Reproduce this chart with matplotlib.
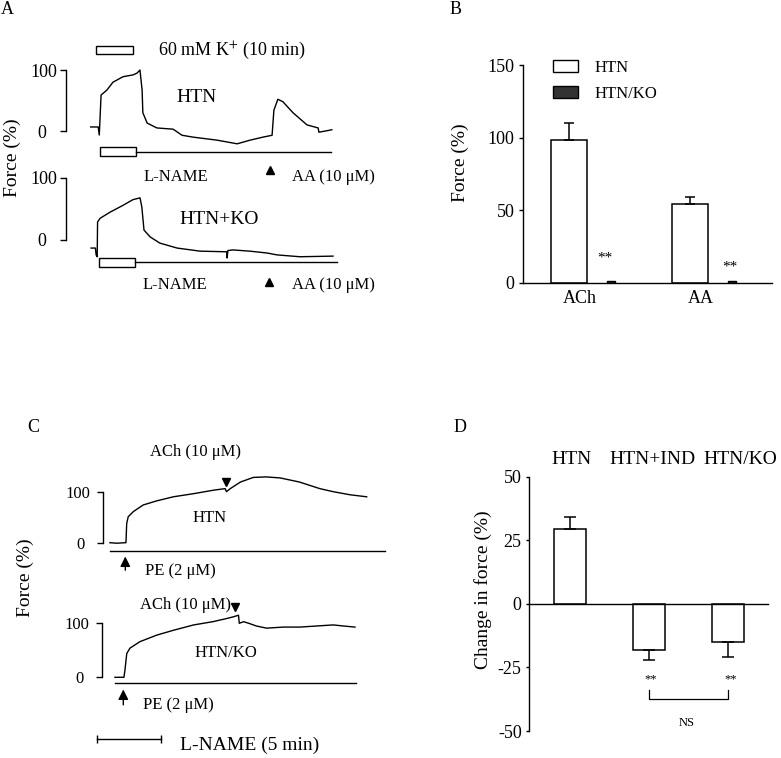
#!/usr/bin/env python3
"""
Four-panel vascular reactivity figure: force traces (A, C) and bar summaries (B, D)
"""

import matplotlib
matplotlib.use('Agg')
import matplotlib.pyplot as plt
from matplotlib.patches import Patch, Rectangle

plt.rcParams['font.family'] = ['Liberation Serif', 'DejaVu Sans']
plt.rcParams['mathtext.fontset'] = 'stix'
plt.rcParams['axes.unicode_minus'] = False

W, H = 781, 758

# ---- Panel A: 60 mM K+ then L-NAME, AA added (time in min, force in %) ----
A_HTN_T = [-2.6, -0.5, -0.2, 0.3, 1.9, 3.6, 6.4, 9.2, 10.3, 11.1, 11.7, 11.9, 13.1, 15.8, 20.3,
           22.8, 25.8, 32.5, 38.1, 41.7, 45.3, 47.8, 48.3, 49.4, 50.8, 53.6, 57.5, 60.6, 60.8, 64.4]
A_HTN_F = [6.6, 6.6, -6.6, 59, 67, 80, 89, 92, 95, 100, 67, 30, 13, 5, 3,
           -7, -10, -15, -21, -15, -10, -7, 34, 52, 48, 30, 10, 5, -2, 2]
A_KO_T = [-2.2, -1.0, -0.8, -0.5, -0.4, 0.3, 3.1, 6.7, 9.4, 11.4, 11.9, 12.5, 14.2, 16.9, 21.7,
          28.1, 35.5, 35.6, 35.8, 37.2, 41.9, 46.7, 49.4, 55.8, 65]
A_KO_F = [-13, -13, -24, -27, 29, 35, 45, 56, 65, 68, 53, 16, 5, -5, -13,
          -18, -19, -29, -17, -16, -18, -21, -24, -27, -26]
K_DURATION = 10      # min
A_AA_TIME = 47.3     # min
A_END = 65.5

# ---- Panel B: relaxation to ACh / AA ----
B_CATS = ['ACh', 'AA']
B_HTN = [98, 54.2]
B_HTN_ERR = [12, 5]
B_KO = [1.0, 1.0]

# ---- Panel C: PE contraction, ACh added (time in min, force in %) ----
C_HTN_T = [-1.2, -0.67, 0, 0.05, 0.11, 0.23, 0.63, 1.4, 2.45, 3.75, 5.3, 6.9, 7.8, 7.9, 8.2,
           9.0, 10.0, 11.0, 12.1, 13.6, 15.2, 16.25, 17.55, 18.86]
C_HTN_F = [0, -1, 0, 0, 38, 51, 61, 74, 82, 90, 96, 103, 106, 100, 106,
           119, 128, 129, 127, 119, 106, 100, 94, 90]
C_KO_T = [-0.65, 0.05, 0.13, 0.27, 0.52, 1.3, 2.6, 3.9, 5.5, 7.0, 8.1, 8.6, 9.0, 9.06, 9.4,
          9.8, 10.4, 11.2, 12.5, 13.8, 15.1, 16.4, 17.2, 18.1]
C_KO_F = [0, 0, 13.5, 44, 54, 66, 78, 87, 97, 103, 109, 112, 115, 100, 103,
          100, 95, 91, 93, 93, 95, 97, 95, 93]
C_ACH_HTN = 7.87
C_ACH_KO = 8.73
C_END_HTN = 20.3
C_END_KO = 18.2
SCALE_MIN = 5

# ---- Panel D: change in force after ACh ----
D_GROUPS = ['HTN', 'HTN+IND', 'HTN/KO']
D_MEAN = [29.4, -18.2, -14.9]
D_ERR_UP = [4.6, 0, 0]
D_ERR_DOWN = [0, 4.0, 6.1]

KO_COLOR = '#333333'

fig = plt.figure(figsize=(W / 100, H / 100), dpi=100)


def put(x, y, s, size=12, ha='center', va='center', **kw):
    fig.text(x / W, 1 - y / H, s, fontsize=size, ha=ha, va=va, **kw)


def trace_axes(x0, sx, y0, sy, tlim, flim, bar_px, labelsize, pads):
    """Axes whose t=0/f=0 sits at pixel (x0, y0), sx px per min, sy px per %"""
    left = x0 + sx * tlim[0]
    width = sx * (tlim[1] - tlim[0])
    top = y0 - sy * flim[1]
    height = sy * (flim[1] - flim[0])
    ax = fig.add_axes([left / W, 1 - (top + height) / H, width / W, height / H])
    ax.set_xlim(tlim)
    ax.set_ylim(flim)
    ax.patch.set_visible(False)
    for s in ['top', 'right', 'bottom']:
        ax.spines[s].set_visible(False)
    ax.spines['left'].set_position(('outward', (left - bar_px) * 0.72))
    ax.spines['left'].set_bounds(0, 100)
    ax.spines['left'].set_linewidth(1.0)
    ax.set_xticks([])
    ax.set_yticks([0, 100])
    ax.set_yticklabels(['0', '100'])
    ax.tick_params(axis='y', direction='out', length=4, width=1.0, labelsize=labelsize)
    for tick, p in zip(ax.yaxis.get_major_ticks(), pads):
        tick.set_pad(p)
    return ax


def pe_arrow(ax, head, tail):
    ax.annotate('', xy=(0, head), xytext=(0, tail), annotation_clip=False,
                arrowprops=dict(arrowstyle='-|>,head_length=0.5,head_width=0.25', color='black',
                                lw=1.0, mutation_scale=12, shrinkA=0, shrinkB=0))


# =========================== Panel A ===========================
put(7, 9, 'A', 13)
fig.add_artist(Rectangle((96 / W, 1 - 54 / H), 37 / W, 8 / H, transform=fig.transFigure,
                         fill=False, lw=1.0, ec='black'))
put(158, 50, '60 mM K$^{+}$ (10 min)', 13, ha='left')
put(12, 158, 'Force (%)', 14, rotation=90)

axa1 = trace_axes(100, 3.6, 131, 0.61, (-3, 66), (-45, 105), 65.5, 13, (10, 2))
axa1.plot(A_HTN_T, A_HTN_F, color='black', lw=1.0)
axa1.add_patch(Rectangle((0, -41), K_DURATION, 15, fill=False, lw=1.0, ec='black', clip_on=False))
axa1.plot([K_DURATION, A_END - 1.4], [-34.4, -34.4], color='black', lw=1.0, clip_on=False)
axa1.plot([A_AA_TIME], [-64], marker='^', color='black', ms=6, clip_on=False)
put(197, 97, 'HTN', 14)
put(144, 177, 'L-NAME', 12, ha='left')
put(292, 177, 'AA (10 μM)', 12, ha='left')

axa2 = trace_axes(99, 3.6, 240, 0.62, (-3, 66), (-45, 105), 65.5, 13, (10, 2))
axa2.plot(A_KO_T, A_KO_F, color='black', lw=1.0)
axa2.add_patch(Rectangle((0, -43.5), K_DURATION, 14.5, fill=False, lw=1.0, ec='black', clip_on=False))
axa2.plot([K_DURATION, A_END + 0.5], [-35.5, -35.5], color='black', lw=1.0, clip_on=False)
axa2.plot([A_AA_TIME], [-68], marker='^', color='black', ms=6, clip_on=False)
put(219, 220, 'HTN+KO', 14)
put(143, 285, 'L-NAME', 12, ha='left')
put(292, 285, 'AA (10 μM)', 12, ha='left')

# =========================== Panel B ===========================
put(456, 10, 'B', 13)
axb = fig.add_axes([522.7 / W, 1 - 282.7 / H, 249 / W, (282.7 - 65) / H])
xh = [0, 1]
xk = [0.35, 1.35]
axb.bar(xh, B_HTN, width=0.30, color='white', edgecolor='black', lw=1.1,
        yerr=[[0, 0], B_HTN_ERR], error_kw=dict(ecolor='black', elinewidth=1.1, capsize=3.6, capthick=1.1))
axb.bar(xk, B_KO, width=0.066, color=KO_COLOR, edgecolor='black', lw=1.0)
axb.set_xlim(-0.38, 1.678)
axb.set_ylim(0, 150)
axb.set_yticks([0, 50, 100, 150])
axb.set_xticks([x + 0.09 for x in xh])
axb.set_xticklabels(B_CATS)
axb.tick_params(axis='y', direction='out', length=3, width=1.0, labelsize=13, pad=3)
axb.tick_params(axis='x', length=0, labelsize=13, pad=5)
for s in ['top', 'right']:
    axb.spines[s].set_visible(False)
for s in ['left', 'bottom']:
    axb.spines[s].set_linewidth(1.0)
axb.legend(handles=[Patch(facecolor='white', edgecolor='black', label='HTN'),
                    Patch(facecolor=KO_COLOR, edgecolor='black', label='HTN/KO')],
           loc='upper left', bbox_to_anchor=(553 / W, 1 - 60 / H), bbox_transform=fig.transFigure,
           frameon=False, fontsize=12, handlelength=1.5, handleheight=0.7, handletextpad=1.0,
           labelspacing=0.6, borderpad=0, borderaxespad=0)
put(460, 163, 'Force (%)', 14, rotation=90)
put(605, 258, '**', 11)
put(730, 267, '**', 11)

# =========================== Panel C ===========================
put(33, 427, 'C', 13)
put(25, 578, 'Force (%)', 14, rotation=90)

axc1 = trace_axes(125.3, 12.8, 542.7, 0.51, (-1.5, 21), (-20, 132), 103, 12, (9, 5))
axc1.plot(C_HTN_T, C_HTN_F, color='black', lw=1.0)
axc1.plot([C_HTN_T[0], C_END_HTN], [-15.7, -15.7], color='black', lw=1.0, clip_on=False)
axc1.plot([C_ACH_HTN], [119.6], marker='v', color='black', ms=6, clip_on=False)
pe_arrow(axc1, -27, -54)
put(196, 452, 'ACh (10 μM)', 12)
put(210, 518, 'HTN', 12)
put(145, 571, 'PE (2 μM)', 12, ha='left')

axc2 = trace_axes(123.3, 12.8, 677.3, 0.54, (-1.5, 21), (-20, 132), 101.7, 12, (9, 5))
axc2.plot(C_KO_T, C_KO_F, color='black', lw=1.0)
axc2.plot([C_KO_T[0], C_END_KO], [-11, -11], color='black', lw=1.0, clip_on=False)
axc2.plot([C_ACH_KO], [130], marker='v', color='black', ms=6, clip_on=False)
pe_arrow(axc2, -22.5, -51)
axc2.plot([-2.08, -2.08 + SCALE_MIN], [-114, -114], color='black', lw=1.0,
          marker='|', ms=6, clip_on=False)
put(186, 605, 'ACh (10 μM)', 12)
put(226, 653, 'HTN/KO', 12)
put(143, 705, 'PE (2 μM)', 12, ha='left')
put(180, 745, 'L-NAME (5 min)', 14, ha='left')

# =========================== Panel D ===========================
put(460, 427, 'D', 13)
axd = fig.add_axes([529.3 / W, 1 - 731 / H, 239 / W, (731 - 476.7) / H])
xd = list(range(len(D_GROUPS)))
axd.bar(xd, D_MEAN, width=0.405, color='white', edgecolor='black', lw=1.1,
        yerr=[D_ERR_DOWN, D_ERR_UP], error_kw=dict(ecolor='black', elinewidth=1.1, capsize=4, capthick=1.1))
axd.set_xlim(-0.515, 2.51)
axd.set_ylim(-50, 50)
axd.set_yticks([-50, -25, 0, 25, 50])
axd.set_xticks([])
axd.tick_params(axis='y', direction='out', length=2.5, width=1.0, labelsize=13, pad=3)
axd.spines['bottom'].set_position(('data', 0))
for s in ['top', 'right']:
    axd.spines[s].set_visible(False)
for s in ['left', 'bottom']:
    axd.spines[s].set_linewidth(1.0)
axd.plot([1, 1, 2, 2], [-34, -37.6, -37.6, -34], color='black', lw=0.9)
put(572, 460, D_GROUPS[0], 14)
put(652, 460, D_GROUPS[1], 14)
put(740, 460, D_GROUPS[2], 14)
put(483, 590, 'Change in force (%)', 14, rotation=90)
put(651, 679, '**', 9)
put(731, 679, '**', 9)
put(687, 723, 'NS', 9)

plt.savefig('out.png', dpi=100)
